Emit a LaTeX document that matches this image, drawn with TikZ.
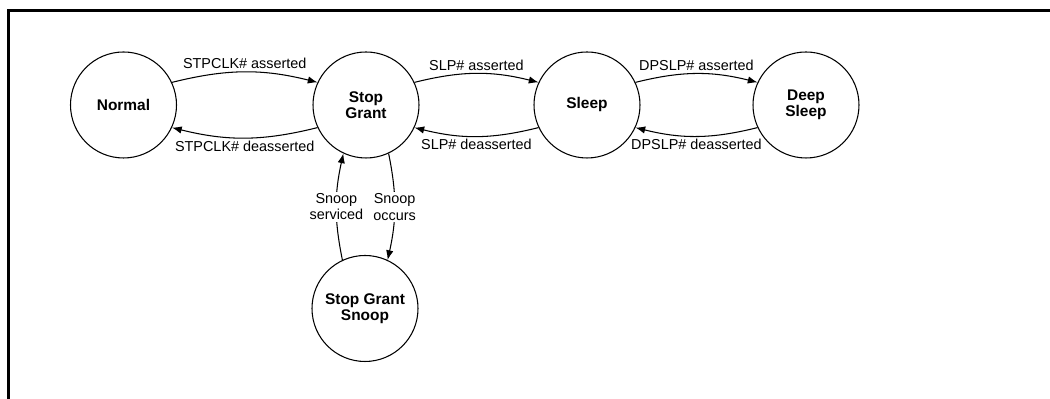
\documentclass[tikz,border=0pt]{standalone}
\usepackage{fontspec}
\setmainfont{Liberation Sans}
\usetikzlibrary{arrows.meta}

\begin{document}
\begin{tikzpicture}[>={Latex[length=5.5pt,width=4.2pt]},
  font=\fontsize{8.2}{9.4}\selectfont,
  state/.style={
    circle,
    draw,
    line width=0.6pt,
    minimum size=2.12cm,
    inner sep=0pt,
    align=center,
    font=\fontsize{8.8}{8.9}\selectfont\bfseries
  },
  trans/.style={
    ->,
    line width=0.6pt
  },
  lbl/.style={
    inner sep=1.5pt
  },
  snooplbl/.style={
    fill=white,
    align=center,
    inner sep=1pt
  }
  ]

  \useasboundingbox (0,0) rectangle (21,7.98);

  \pgfmathsetmacro{\yt}{5.88}
  \pgfmathsetmacro{\yb}{1.81}

  % frame
  \draw [line width=1.6pt] (0.165,0) -- (0.165,7.775) -- (21,7.775);

  \node [state] (normal) at (2.47,\yt) {Normal};
  \node [state] (grant) at (7.32,\yt) {Stop\\Grant};
  \node [state] (sleep) at (11.74,\yt) {Sleep};
  \node [state] (deep) at (16.12,\yt) {Deep\\Sleep};
  \node [state] (snoop) at (7.30,\yb) {Stop Grant\\Snoop};

  \draw [trans] (normal.25) to[bend left=14] node[lbl, above] (stpon) {STPCLK\# asserted} (grant.155);
  \draw [trans] (grant.205) to[bend left=14] node[lbl, below] (stpoff) {STPCLK\# deasserted} (normal.335);

  \draw [trans] (grant.25) to[bend left=14] node[lbl, above] (slpon) {SLP\# asserted} (sleep.155);
  \draw [trans] (sleep.205) to[bend left=14] node[lbl, below] (slpoff) {SLP\# deasserted} (grant.335);

  \draw [trans] (sleep.25) to[bend left=14] node[lbl, above] (dpon) {DPSLP\# asserted} (deep.155);
  \draw [trans] (deep.205) to[bend left=14] node[lbl, below] (dpoff) {DPSLP\# deasserted} (sleep.335);

  \draw [trans] (snoop.115) to[bend left=12] node[snooplbl] (snpdone) {Snoop\\serviced} (grant.245);
  \draw [trans] (grant.295) to[bend left=12] node[snooplbl] (snpgo) {Snoop\\occurs} (snoop.65);

\end{tikzpicture}
\end{document}
